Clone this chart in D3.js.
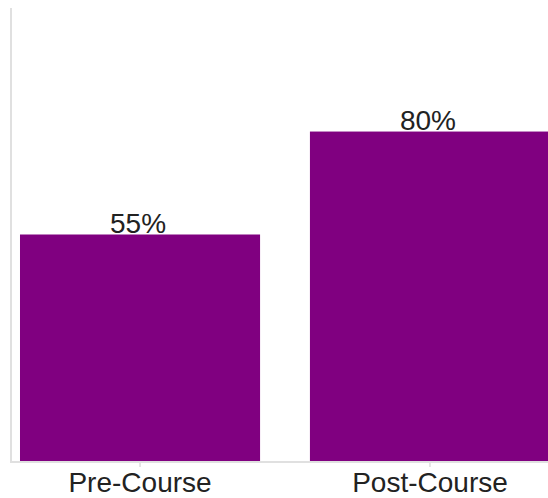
<!DOCTYPE html>
<html>
<head>
<meta charset="utf-8" />
<title>course bars</title>
<script src="https://cdn.jsdelivr.net/npm/d3@7"></script>
<style>
  html, body { margin: 0; padding: 0; background: #fff; }
  svg { display: block; }
</style>
</head>
<body>
<svg width="548" height="498"></svg>
<script>
  // data
  var categories = ["Pre-Course", "Post-Course"];
  var values = [55, 80];
  var valueLabels = ["55%", "80%"];

  var svg = d3.select("svg");
  var width = +svg.attr("width");

  var x0 = 11, yBottom = 461, yTop = 8;

  var xScale = d3.scaleBand()
    .domain(categories)
    .range([x0, 559])
    .paddingInner(0.172)
    .paddingOuter(0.031);

  var yScale = d3.scaleLinear()
    .domain([0, 110])
    .range([yBottom, yTop]);

  // bars
  svg.selectAll(".bar")
    .data(values)
    .enter()
    .append("rect")
    .attr("class", "bar")
    .attr("x", (d, i) => xScale(categories[i]))
    .attr("y", d => yScale(d))
    .attr("width", xScale.bandwidth())
    .attr("height", d => yBottom - yScale(d))
    .attr("fill", "#800080");

  // value labels
  svg.selectAll(".lbl")
    .data(values)
    .enter()
    .append("text")
    .attr("class", "lbl")
    .attr("x", (d, i) => xScale(categories[i]) + xScale.bandwidth() / 2 - 2)
    .attr("y", d => yScale(d) - 2)
    .attr("text-anchor", "middle")
    .attr("font-family", "Liberation Sans, Arial, sans-serif")
    .attr("font-size", "28px")
    .attr("fill", "#222")
    .text((d, i) => valueLabels[i]);

  // left axis line
  svg.append("line")
    .attr("x1", x0).attr("x2", x0)
    .attr("y1", yTop).attr("y2", yBottom)
    .attr("stroke", "#e0e0e0").attr("stroke-width", 2);

  // bottom axis
  var xAxis = d3.axisBottom(xScale).tickSize(6).tickSizeOuter(0);
  var gx = svg.append("g")
    .attr("transform", `translate(0,${yBottom})`)
    .call(xAxis);
  gx.select(".domain").remove();
  gx.selectAll(".tick line").attr("stroke", "#ccc");
  gx.selectAll(".tick text")
    .attr("y", 31)
    .attr("dy", 0)
    .attr("font-family", "Liberation Sans, Arial, sans-serif")
    .attr("font-size", "28px")
    .attr("fill", "#222");

  svg.append("line")
    .attr("x1", x0 - 1).attr("x2", width)
    .attr("y1", yBottom + 1).attr("y2", yBottom + 1)
    .attr("stroke", "#e0e0e0").attr("stroke-width", 2);
</script>
</body>
</html>
